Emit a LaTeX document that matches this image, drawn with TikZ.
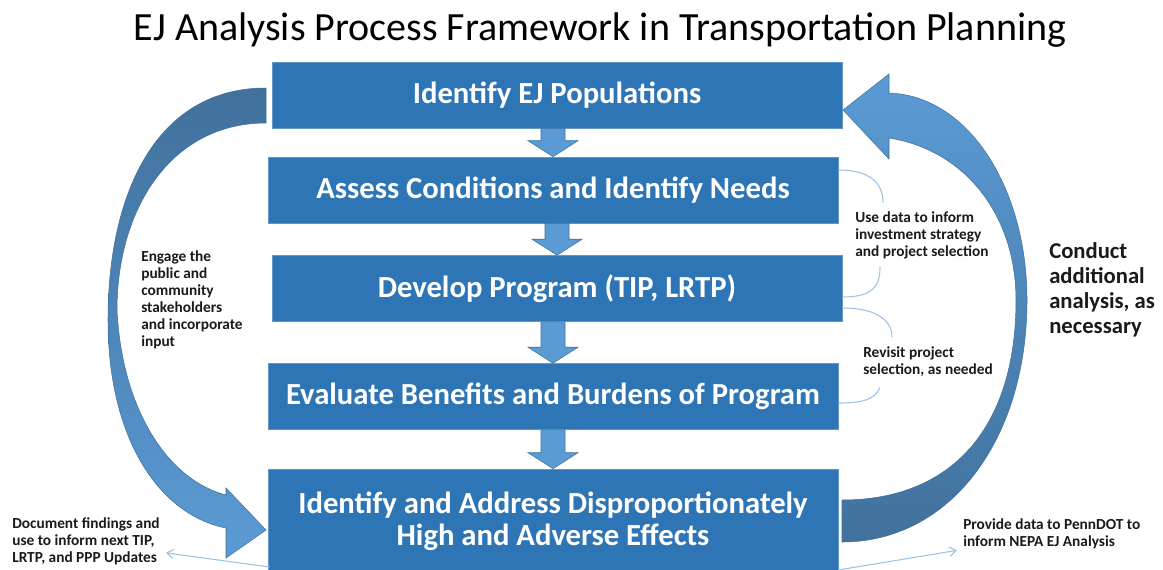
\documentclass[tikz,border=0pt]{standalone}
\usepackage{fontspec}
\setmainfont{Carlito}
\usetikzlibrary{calc,arrows.meta}
\definecolor{boxblue}{HTML}{2E75B6}
\definecolor{arrowlight}{HTML}{5B9BD5}
\definecolor{arrowdark}{HTML}{41719C}
\definecolor{linkblue}{HTML}{9DC3E6}
\definecolor{notegray}{HTML}{1A1A1A}

\begin{document}
\begin{tikzpicture}[x=0.75pt,y=-0.75pt,
    stepbox/.style={fill=boxblue,draw=boxblue!75!white,line width=0.4pt,text=white,
      font=\fontsize{23}{24}\selectfont\bfseries,align=center,inner sep=0pt,
      minimum width=427.5pt,minimum height=49.5pt},
    note/.style={text=notegray,font=\fontsize{11.5}{12.75}\selectfont\bfseries,
      align=left,anchor=north west,inner sep=0pt},
    link/.style={draw=linkblue,line width=0.8pt},
    flow/.style={fill=arrowlight,draw=arrowdark,line width=0.4pt}]
    \path[fill=white,use as bounding box] (0,0) rectangle (1163,569);
    \clip (0,0) rectangle (1163,569);

    \node[font=\fontsize{30}{36}\selectfont] (title) at (600,30)
        {EJ Analysis Process Framework in Transportation Planning};

    % the five steps
    \node[stepbox] (p1) at (557,95) {Identify EJ Populations};
    \node[stepbox] (p2) at (553,190) {Assess Conditions and Identify Needs};
    \node[stepbox] (p3) at (557,288.5) {Develop Program (TIP, LRTP)};
    \node[stepbox] (p4) at (553,396.5) {Evaluate Benefits and Burdens of Program};
    \node[stepbox,minimum height=78pt] (p5) at (553,521)
        {Identify and Address Disproportionately\\High and Adverse Effects};

    \foreach \a/\b in {p1/p2,p2/p3,p3/p4,p4/p5}
        \draw[flow] ($(\a.south -| \b.north)+(-12,0)$) -- ($(\b.north)+(-12,-16)$)
            -- ($(\b.north)+(-25,-16)$) -- (\b.north) -- ($(\b.north)+(25,-16)$)
            -- ($(\b.north)+(12,-16)$) -- ($(\a.south -| \b.north)+(12,0)$) -- cycle;

    % big loop arrows
    \shade[top color=arrowdark,bottom color=arrowlight,draw=arrowdark,line width=0.4pt]
        (266,88) .. controls (155,88) and (108,195) .. (108,320)
        .. controls (108,440) and (160,515) .. (226,528) -- (226,558) -- (266,530)
        -- (226,488) -- (226,495) .. controls (168,480) and (122,410) .. (117,310)
        .. controls (117,210) and (170,123) .. (266,123) -- cycle;
    \shade[top color=arrowlight,bottom color=arrowdark,draw=arrowdark,line width=0.4pt]
        (842,542) .. controls (950,542) and (1027,440) .. (1027,300)
        .. controls (1027,190) and (970,96) .. (889,93) -- (889,74) -- (843,110)
        -- (889,159) -- (889,138) .. controls (965,150) and (1016,215) .. (1016,300)
        .. controls (1016,430) and (950,500) .. (842,500) -- cycle;

    % notes
    \node[note] (engage) at (141,250)
        {Engage the\\public and\\community\\stakeholders\\and incorporate\\input};
    \node[note] (usedata) at (855,211)
        {Use data to inform\\investment strategy\\and project selection};
    \node[note] (revisit) at (863,346) {Revisit project\\selection, as needed};
    \node[note,font=\fontsize{17}{18.75}\selectfont\bfseries] (conduct) at (1049,242)
        {Conduct\\additional\\analysis, as\\necessary};
    \node[note] (document) at (12,517)
        {Document findings and\\use to inform next TIP,\\LRTP, and PPP Updates};
    \node[note] (provide) at (963,518)
        {Provide data to PennDOT to\\inform NEPA EJ Analysis};

    % thin links
    \draw[link] ($(p2.east)+(0,-20)$) .. controls +(32,0) and +(0,-20) ..
        ($(usedata.north west)+(28,-8)$);
    \draw[link] ($(usedata.south west)+(25,8)$) .. controls +(0,20) and +(30,0) ..
        ($(p3.east)+(0,8.5)$);
    \draw[link] ($(p3.east)+(0,19.5)$) .. controls +(35,0) and +(0,-16) ..
        ($(revisit.north west)+(29,-9)$);
    \draw[link] ($(revisit.south west)+(17,11)$) .. controls +(-5,12) and +(25,0) ..
        ($(p4.east)+(0,6.5)$);
    \draw[link,-{Straight Barb[length=5pt,width=7pt]}] ($(p5.west)+(2,46)$)
        -- ($(document.east)+(6,12)$);
    \draw[link,-{Straight Barb[length=5pt,width=7pt]}] ($(p5.east)+(0,49)$)
        -- ($(provide.west)+(-6,17)$);
\end{tikzpicture}
\end{document}
